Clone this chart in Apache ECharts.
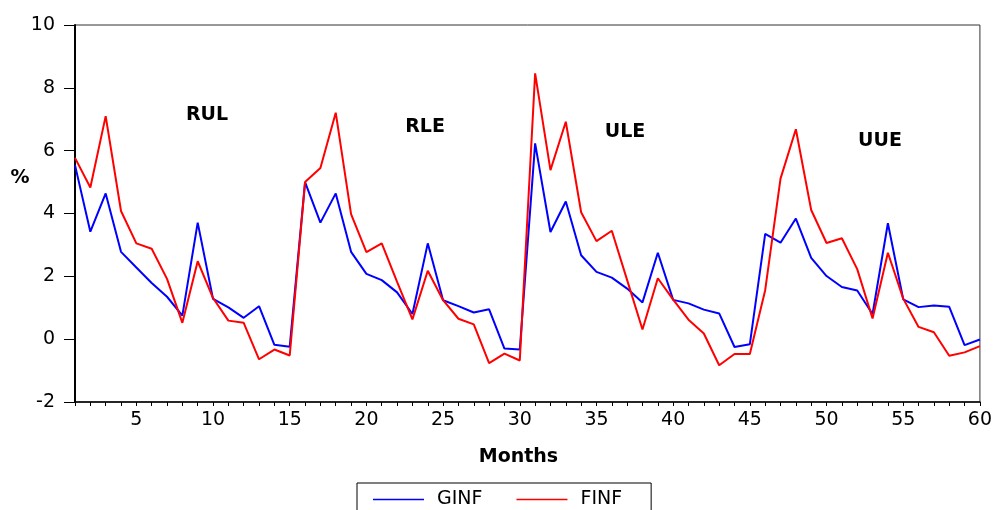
<!DOCTYPE html>
<html>
<head>
<meta charset="utf-8">
<script src="https://cdn.jsdelivr.net/npm/echarts@6/dist/echarts.min.js"></script>
<style>
html,body{margin:0;padding:0;background:#fff;}
#chart{width:995px;height:510px;}
</style>
</head>
<body>
<div id="chart"></div>
<script>
var months = [];
for (var m = 1; m <= 60; m++) months.push(String(m));

var ginf = [5.54, 3.42, 4.64, 2.78, 2.28, 1.79, 1.35, 0.75, 3.71, 1.28,
            1.01, 0.68, 1.05, -0.18, -0.24, 5.00, 3.71, 4.64, 2.78, 2.08,
            1.88, 1.49, 0.80, 3.05, 1.24, 1.05, 0.85, 0.95, -0.30, -0.33,
            6.23, 3.41, 4.38, 2.67, 2.14, 1.96, 1.61, 1.17, 2.75, 1.25,
            1.14, 0.94, 0.82, -0.25, -0.16, 3.35, 3.07, 3.84, 2.59, 2.01,
            1.66, 1.55, 0.80, 3.69, 1.27, 1.02, 1.07, 1.03, -0.19, -0.01];

var finf = [5.77, 4.83, 7.10, 4.08, 3.05, 2.88, 1.92, 0.52, 2.48, 1.31,
            0.59, 0.52, -0.64, -0.33, -0.52, 5.00, 5.45, 7.21, 3.98, 2.77,
            3.05, 1.82, 0.63, 2.18, 1.24, 0.65, 0.47, -0.76, -0.46, -0.68,
            8.46, 5.38, 6.92, 4.04, 3.12, 3.45, 1.88, 0.31, 1.94, 1.26,
            0.62, 0.18, -0.83, -0.47, -0.47, 1.56, 5.11, 6.68, 4.11, 3.06,
            3.21, 2.23, 0.66, 2.75, 1.29, 0.39, 0.22, -0.53, -0.42, -0.22];

var seriesNames = ['GINF', 'FINF'];
var yTicks = {min: -2, max: 10, interval: 2};
var annotations = ['RUL', 'RLE', 'ULE', 'UUE'];

var FONT = 'DejaVu Sans';
var chart = echarts.init(document.getElementById('chart'), null, {renderer: 'canvas'});

var annPos = [[207, 115], [425, 127], [625, 132], [880, 141]];
var graphics = annotations.map(function (t, i) {
  return {
    type: 'text', x: annPos[i][0], y: annPos[i][1],
    style: {text: t, font: 'bold 19px "' + FONT + '"', fill: '#000', textAlign: 'center', textVerticalAlign: 'middle'}
  };
});
graphics.push({
  type: 'text', x: 20, y: 178,
  style: {text: '%', font: 'bold 19px "' + FONT + '"', fill: '#000', textAlign: 'center', textVerticalAlign: 'middle'}
});

chart.setOption({
  animation: false,
  backgroundColor: '#fff',
  textStyle: {fontFamily: FONT},
  grid: {left: 75, right: 15, top: 25, bottom: 108, show: true, borderColor: '#333', borderWidth: 1, backgroundColor: 'transparent'},
  xAxis: {
    type: 'category',
    data: months,
    boundaryGap: false,
    axisLine: {onZero: false, lineStyle: {color: '#000', width: 1.5}},
    axisTick: {show: true, interval: 0, length: 4, lineStyle: {color: '#000'}},
    axisLabel: {
      color: '#000', fontSize: 19, fontFamily: FONT, margin: 9,
      interval: function (idx) { return (idx + 1) % 5 === 0; }
    },
    splitLine: {show: false},
    name: 'Months', nameLocation: 'middle', nameGap: 46,
    nameTextStyle: {color: '#000', fontSize: 19, fontWeight: 'bold', fontFamily: FONT, padding: [0, 18, 0, 0]}
  },
  yAxis: {
    type: 'value',
    min: yTicks.min, max: yTicks.max, interval: yTicks.interval,
    axisLine: {show: true, lineStyle: {color: '#000', width: 2}},
    axisTick: {show: true, length: 11, lineStyle: {color: '#000'}},
    axisLabel: {color: '#000', fontSize: 19, fontFamily: FONT, margin: 20},
    splitLine: {show: false}
  },
  legend: {
    data: seriesNames,
    left: 357, top: 483,
    orient: 'horizontal',
    icon: 'rect',
    borderColor: '#000', borderWidth: 1,
    padding: [7, 29, 10, 16],
    itemWidth: 51, itemHeight: 1.5, itemGap: 34,
    textStyle: {color: '#000', fontSize: 19, fontFamily: FONT, padding: [0, 0, 0, 8]}
  },
  graphic: graphics,
  series: [
    {name: seriesNames[0], type: 'line', data: ginf, symbol: 'none', showSymbol: false,
     lineStyle: {color: '#0000ff', width: 2}, itemStyle: {color: '#0000ff'}},
    {name: seriesNames[1], type: 'line', data: finf, symbol: 'none', showSymbol: false,
     lineStyle: {color: '#ff0000', width: 2}, itemStyle: {color: '#ff0000'}}
  ]
});
</script>
</body>
</html>
